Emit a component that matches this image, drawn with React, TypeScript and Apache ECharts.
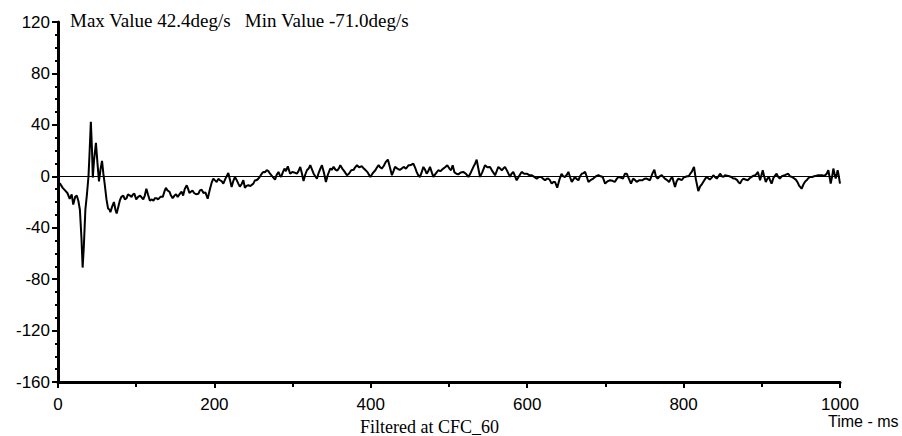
import React, { useEffect, useRef } from "react";
import * as echarts from "echarts";

// [time ms, angular rate deg/s]
const impactPhase: number[][] = [
  [0,-5],[3,-6],[6,-9],[9,-11],[12,-13],[15,-17.5],[17.5,-14],[19.5,-22],[22,-16],[24,-15],[26,-19],[28,-26],[30,-48],[31.5,-71],[33,-55],[35,-26],[37,-14],[39,0],[40.5,20],[42,42.4],[43.5,20],[44.5,-1],[46,12],[48.5,26],[50.5,10],[52.4,-4],[54.5,6],[56.3,12],[58,2],[59.5,-5],[62,-18],[64,-25],[66,-26],[67,-28],[69,-24],[71.5,-20],[73.5,-26],[75,-29],[77,-24],[79,-19],[81,-16],[83.5,-15],[85.5,-18],[87.7,-17],[89.5,-14],[92,-15],[94,-16],[96,-14],[97.6,-13.5],[100,-18],[102.5,-16],[105,-15],[109,-18],[111,-15],[113,-9.7],[115,-14],[117.5,-19],[120,-18],[122,-19],[124,-17],[126,-17],[128,-18],[131,-16],[134,-16],[136,-12],[138,-9],[140,-11],[142.5,-12],[144.5,-15],[146.6,-17],[149,-15],[151,-14],[153,-16],[156,-13.5],[158,-12],[160,-15],[162,-10],[164.6,-7],[166.5,-10],[168,-13],[170,-12],[172,-11],[174,-13],
];

const recoveryPhase: number[][] = [
  [176.5,-14],[179.5,-13.6],[181.5,-11],[183.7,-10.4],[186,-13],[188.5,-12.5],[191.4,-17.5],[194.4,-9.7],[196.5,-5],[198.6,-1.8],[200.5,-3],[202.9,-4.4],[205,-2],[207.2,-3.1],[209.5,-4],[211.4,-5.7],[214,-2],[217.8,2.6],[220,-3],[222,-8.4],[224,-4],[226.3,-0.5],[228.5,-3],[230.6,-5.7],[232.5,-8],[234.9,-6],[237,-3],[239,-8.9],[241,-7.5],[243.4,-7],[246,-7.5],[249.8,-5.7],[252,-3],[254,-3],[256,-2],[258.4,0],[260.5,2],[262.6,3.4],[264.5,3],[266.9,4.7],[269,4],[271.2,2],[274,0],[277.6,-2.6],[279.5,1],[281.9,3.4],[283.5,1],[285.3,-0.5],[287.5,3],[289.6,6],[291.5,4],[293.9,7.8],[296.8,2],[299.5,3.4],[302,3],[305.5,2],[307.5,4],[309.8,7.3],[312,2],[314,-3.7],[316,1],[318.3,4.7],[320.5,6],[322.6,8.6],[325,5],[326.9,2],[329,0],[331.1,-1.8],[333,2],[335.5,6],[337.5,8.6],[340,3],[342.6,-4.4],[345,1],[348.1,6],[350,5],[352.4,7.3],[355,5],[357,4.5],[359,6],[361,8.6],[363.5,6],[366,4],[369.5,0.8],[372,2],[375,4.7],[378,5],[380,7],[382.3,8.6],[385,7],[388.7,7.8],[391,6],[393,5],[396,3],[399.4,-0.5],[402,2],[405.8,4.7],[408,7],[410,8.6],[412,7],[414,6],[416.5,8],[419,11],[421.8,13],[424,8],[427,0.8],[429,4],[431,7.3],[434,6],[437,5],[439.5,6],[442,7.3],[445,6],[448.4,8.6],[450,8.6],[452,9],[454.4,9.9],
];

const midPhase: number[][] = [
  [456.5,7],[458.6,3.4],[460.5,1],[462.9,-0.5],[465,3],[467.2,7.3],[469.5,5],[471.4,2],[473.5,4],[475.7,7.3],[478,3],[480,-0.5],[483,2],[486.3,4.7],[489,4],[492.7,6],[495,7],[497.8,8.6],[500.5,6],[502.5,4.7],[504.7,8.6],[507,3],[509.5,2],[511.9,1.5],[515,3],[518.3,3.4],[521.5,2],[524.8,-0.5],[528,3],[531.2,7.3],[533.5,10],[535.4,13],[537.5,6],[539.7,-0.5],[542.5,3],[546.1,8.6],[549,7],[552.5,7.3],[555.5,4],[558.9,0.8],[561,4],[563.1,7.3],[565.5,6],[567.5,4.7],[569.5,6],[571.6,7.3],[574.5,4],[578,-0.5],[580,2],[582.2,3.4],[584.5,0],[586.5,-3.1],[589.5,0],[592.9,3.4],[596,2],[599.3,2],[602.5,1],[606,0.8],[609,-0.5],[612.2,-1.8],[615,-0.5],[618,-0.5],[620.5,-2],[622.8,-3.1],[625,-2],[627,-1.8],[629,-3],[631.3,-5.7],[633.5,-4.4],[635.5,-4.4],[638.4,-8.9],[641,-3],[643.9,2],[646,0],[648.5,-0.5],[650.5,1],[652.7,3.4],[655,-1],[657,-4.4],[659.5,-2],[661,-0.5],[663,-2],[665.5,-3.1],[667.5,0],[669.8,2],[672,2.5],[674,3.4],[676,0],[678.3,-4.4],[681,-3],[684.5,-1.8],[688,0],[691.1,0.8],[694,0],[696.5,-0.5],[699.6,-5.7],[702.5,-4],[706,-3.1],[709,-3.5],[712,-4.4],[714.5,-2],[716.7,-0.5],[719.5,-1],[722.5,-1.8],[725,2],
];

const latePhase: number[][] = [
  [727.3,2],[729,-0.5],[732.7,-5.7],[735.5,-1.8],[738,-3],[740,-4.4],[743.5,-3],[747,-3.1],[750,-2],[752.7,-1.8],[755,-2.5],[757,-3.1],[760,2],[762.6,5.2],[764.5,0],[766.8,-1.8],[769.5,0],[772,0.8],[774,-0.5],[776,-1.8],[779,-3],[781.4,-4.4],[783.5,-2],[785.5,-0.5],[787.5,-5],[789,-8.4],[791,-4],[793.3,-1.8],[796,-2.5],[797.5,-3.1],[800,-1],[802,-0.5],[804.5,0],[806.5,0],[808.5,2],[810.4,3.4],[813.3,7.3],[815.5,-1.8],[818.8,-11.5],[821,-8],[823.9,-5.7],[826.5,-3],[829.4,-0.5],[831.5,-1.5],[833.5,-2.6],[836,-1],[838,0.8],[840,-0.5],[842.5,-1.8],[844.5,0],[846.6,2],[849,0],[851,-0.5],[853,0.8],[855.5,0.5],[858.5,0],[861,-0.5],[863.5,-1.8],[865.8,-1.8],[868.5,-3],[870,-4.4],[872.2,-5.7],[874.5,-3],[876.5,-1.8],[879,-2.5],[882,-3.1],[884.5,-1.5],[887,-0.5],[889.5,0.5],[891.5,0.8],[893.5,2],[895,3.4],[897.8,-3.1],[901.2,4.7],[903,0],[905.1,-4.4],[907,-2],[909,-0.5],[910.5,-3],[912.5,-5.7],[915,-1],[918.9,2],[921,-0.5],[923,-1.8],[925.5,0],[929.5,0.8],[931.5,1.5],[933.8,2],[936,0],[938.3,-0.5],[941,-1.5],[943.5,-2.6],[945.5,-4.4],[947.5,-7],[950.9,-9.7],[953.5,-6],[955.5,-4],[957.3,-3.1],[959.5,-1.5],[961.6,-0.5],[964.5,-0.5],[967,0],[970,0.5],[972,0.8],[974.4,0.8],[977,0.8],[979,0.5],[981,0.8],[983,2],[985.1,4.7],[986.5,0],[988.1,-5.7],[990,0],[991.5,6],[993,2],[994.5,-1.8],[996,2],[997,4.7],[998.5,0],[1000,-5.7],
];

const yTicks = [-160, -120, -80, -40, 0, 40, 80, 120];
const xTicks = [0, 200, 400, 600, 800, 1000];
const headerText = "Max Value 42.4deg/s   Min Value -71.0deg/s";
const footerText = "Filtered at CFC_60";
const xUnitText = "Time - ms";

export default function App() {
  const ref = useRef<HTMLDivElement>(null);
  useEffect(() => {
    if (!ref.current) return;
    const chart = echarts.init(ref.current, null, { renderer: "svg" });
    const data = [...impactPhase, ...recoveryPhase, ...midPhase, ...latePhase];
    const sans = "Liberation Sans";
    const serif = "Liberation Serif";
    chart.setOption({
      animation: false,
      backgroundColor: "#ffffff",
      grid: { left: 58, right: 62, top: 22, bottom: 54, containLabel: false },
      xAxis: {
        type: "value",
        min: xTicks[0],
        max: xTicks[xTicks.length - 1],
        interval: 200,
        axisLine: { show: true, onZero: false, lineStyle: { color: "#000", width: 3 } },
        axisTick: { show: true, length: 6, lineStyle: { color: "#000", width: 2 } },
        minorTick: { show: true, splitNumber: 2, length: 5, lineStyle: { color: "#000", width: 2 } },
        splitLine: { show: false },
        axisLabel: {
          color: "#000",
          fontFamily: sans,
          fontSize: 17,
          margin: 14,
          formatter: (v: number) => String(v),
        },
      },
      yAxis: {
        type: "value",
        min: yTicks[0],
        max: yTicks[yTicks.length - 1],
        interval: 40,
        axisLine: { show: true, lineStyle: { color: "#000", width: 3 } },
        axisTick: { show: true, length: 6, lineStyle: { color: "#000", width: 2 } },
        minorTick: { show: true, splitNumber: 4, length: 3, lineStyle: { color: "#000", width: 2 } },
        splitLine: { show: false },
        axisLabel: { color: "#000", fontFamily: sans, fontSize: 17, margin: 8 },
      },
      graphic: [
        { type: "text", left: 70, top: 11, style: { text: headerText, fill: "#000", font: `19px "${serif}"` } },
        { type: "text", left: 360, top: 418, style: { text: footerText, fill: "#000", font: `18px "${serif}"` } },
        { type: "text", left: 828, top: 413, style: { text: xUnitText, fill: "#000", font: `16px "${sans}"` } },
      ],
      series: [
        {
          type: "line",
          data,
          symbol: "none",
          smooth: false,
          lineStyle: { color: "#000", width: 2 },
          z: 3,
          markLine: {
            silent: true,
            symbol: "none",
            label: { show: false },
            lineStyle: { color: "#000", width: 1, type: "solid" },
            data: [{ yAxis: 0 }],
            z: 2,
          },
        },
      ],
    });
    return () => chart.dispose();
  }, []);
  return (
    <div
      ref={ref}
      style={{ position: "absolute", left: 0, top: 0, width: 902, height: 436, background: "#fff" }}
    />
  );
}
